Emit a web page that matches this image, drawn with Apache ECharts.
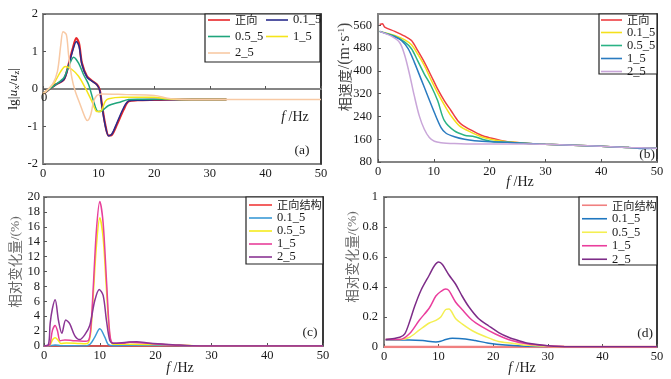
<!DOCTYPE html>
<html><head><meta charset="utf-8">
<script src="https://cdn.jsdelivr.net/npm/echarts/dist/echarts.min.js"></script>
<style>html,body{margin:0;padding:0;background:#fff;}.c{position:absolute;left:0;top:0;width:671px;height:379px;}</style>
</head><body>
<div id="ca" class="c"></div><div id="cb" class="c"></div><div id="cc" class="c"></div><div id="cd" class="c"></div>
<script>
// ---------- Panel (a): lg|ux/uz| ----------
const aNames = ['正向', '0.1_5', '0.5_5', '1_5', '2_5'];
const aFwdX = [0, 1, 2.3, 3.75, 4.6, 5.3, 6.0, 6.5, 7.0, 7.9, 8.8, 9.7, 10.2, 10.6, 11.2, 11.8, 12.4, 13.3, 14.5, 15.4, 17, 20, 25, 30, 33];
const aFwdY = [-0.13, -0.02, 0.12, 0.25, 0.65, 1.05, 1.36, 1.2, 0.69, 0.34, 0.22, 0.12, -0.02, -0.42, -0.95, -1.24, -1.22, -0.95, -0.55, -0.33, -0.3, -0.29, -0.28, -0.28, -0.28];
const a01Y = [-0.13, -0.02, 0.12, 0.25, 0.62, 1.0, 1.27, 1.13, 0.66, 0.32, 0.21, 0.11, -0.04, -0.45, -0.98, -1.25, -1.2, -0.9, -0.5, -0.32, -0.3, -0.29, -0.28, -0.28, -0.28];
const a05X = [0, 1, 2.3, 3.75, 4.6, 5.5, 6.4, 7.3, 8.2, 9.1, 9.9, 10.6, 11.8, 13.6, 15.4, 17, 20, 25, 30, 33];
const a05Y = [-0.13, -0.02, 0.12, 0.3, 0.6, 0.85, 0.69, 0.38, 0.12, -0.33, -0.6, -0.58, -0.44, -0.36, -0.28, -0.27, -0.27, -0.28, -0.28, -0.28];
const a1X = [0, 1, 2, 3.2, 4.0, 5.2, 6.4, 7.6, 8.8, 9.7, 10.3, 11.2, 11.8, 14.2, 20, 22, 25, 30, 33];
const a1Y = [-0.13, 0.0, 0.16, 0.47, 0.6, 0.52, 0.34, 0.03, -0.33, -0.6, -0.6, -0.33, -0.26, -0.22, -0.22, -0.26, -0.28, -0.28, -0.28];
const a2X = [0, 1.7, 2.6, 3.2, 3.6, 4.2, 4.6, 5.2, 5.8, 6.7, 7.6, 8.0, 8.6, 9.1, 9.7, 10.6, 15, 20, 23, 30, 40, 50];
const a2Y = [-0.13, 0.12, 0.47, 1.18, 1.53, 1.45, 0.91, 0.29, -0.06, -0.42, -0.77, -0.84, -0.68, -0.33, -0.17, -0.13, -0.15, -0.17, -0.26, -0.28, -0.28, -0.28];

// ---------- Panel (b): phase velocity ----------
const bNames = ['正向', '0.1_5', '0.5_5', '1_5', '2_5'];
const bFwdX = [0.3, 0.8, 1.2, 3.0, 4.8, 6.0, 7.1, 8.3, 9.5, 10.7, 11.9, 13.1, 14.3, 15.2, 16.7, 18.5, 20.2, 22, 24.4, 27, 30, 35, 40, 45, 50];
const bFwdY = [563, 566, 554, 539, 522, 507, 472, 431, 384, 336, 295, 260, 225, 209, 192, 174, 164, 156, 149, 145, 142, 139, 135, 131, 128];
const b01X = [0.3, 3.0, 4.8, 6.0, 7.1, 8.3, 9.5, 10.7, 11.9, 13.1, 14.6, 16.7, 18.5, 20.2, 22, 24.4, 27, 30, 35, 40, 45, 50];
const b01Y = [539, 525, 509, 492, 460, 419, 369, 322, 280, 242, 207, 184, 169, 160, 154, 149, 145, 142, 139, 135, 131, 128];
const b05X = [0.3, 3.0, 4.8, 6.0, 7.1, 8.3, 9.5, 10.7, 11.9, 13.7, 15.5, 17.3, 19, 20.8, 23.2, 27, 30, 35, 40, 45, 50];
const b05Y = [539, 522, 501, 478, 436, 389, 348, 295, 225, 189, 174, 169, 158, 151, 149, 145, 142, 139, 135, 131, 128];
const b1X = [0.3, 3.0, 4.2, 5.4, 6.5, 7.7, 8.9, 10.1, 11.3, 12.2, 13.7, 15.5, 17.3, 20.2, 23.2, 27, 30, 35, 40, 45, 47.5, 50];
const b1Y = [539, 520, 507, 478, 431, 372, 313, 254, 201, 181, 169, 160, 155, 151, 149, 145, 142, 139, 135, 131, 127, 128];
const b2X = [0.3, 2.4, 3.9, 4.8, 5.7, 6.5, 7.4, 8.3, 9.2, 10.1, 11.3, 13.7, 17.3, 22, 27, 30, 35, 40, 45, 50];
const b2Y = [539, 522, 499, 454, 384, 313, 242, 195, 166, 153, 148, 145, 143, 143, 143, 142, 139, 135, 131, 128];

// ---------- Panel (c): relative change ----------
const cNames = ['正向结构', '0.1_5', '0.5_5', '1_5', '2_5'];
const cFwdX = [0, 50];
const cFwdY = [0, 0];
const c01X = [0, 1, 2, 3, 5, 7, 8.2, 9.1, 10.0, 10.9, 11.5, 12.5, 15, 20, 25, 28, 50];
const c01Y = [0, 0.05, 0.12, 0.05, 0.05, 0, 0.2, 1.2, 2.3, 1.2, 0.2, 0.05, 0.1, 0.1, 0.05, 0, 0];
const c05X = [0, 0.8, 1.2, 1.6, 2.0, 2.5, 3.0, 4, 6, 7.5, 8.0, 8.4, 8.8, 9.4, 10.0, 10.6, 11.2, 11.8, 12.4, 15, 20, 25, 28, 50];
const c05Y = [0, 0.05, 0.3, 0.9, 1.1, 0.8, 0.35, 0.4, 0.35, 0.3, 0.5, 2.0, 6.5, 13.5, 17.2, 14.5, 7.5, 1.3, 0.25, 0.25, 0.2, 0.1, 0, 0];
const c1X = [0, 0.8, 1.1, 1.5, 2.0, 2.4, 2.9, 3.75, 5.2, 7.0, 8.0, 8.4, 8.8, 9.4, 10.0, 10.6, 11.2, 11.8, 12.4, 14.2, 15.4, 17.1, 20, 23, 28, 50];
const c1Y = [0, 0.05, 0.27, 2.07, 2.75, 2.07, 0.72, 0.81, 0.72, 0.63, 0.8, 2.5, 7.5, 15.6, 19.4, 16.5, 8.8, 1.6, 0.36, 0.36, 0.5, 0.45, 0.27, 0.13, 0, 0];
const c2X = [0, 0.8, 1.1, 1.5, 2.0, 2.6, 3.2, 3.9, 4.6, 5.5, 6.4, 7.3, 8.2, 9.1, 9.9, 10.6, 11.2, 11.8, 12.4, 14.8, 16.6, 19, 23, 28, 50];
const c2Y = [0, 0.2, 3.0, 5.0, 6.2, 3.4, 1.7, 3.5, 3.0, 1.4, 0.86, 1.5, 2.75, 6.1, 7.6, 6.8, 3.4, 0.72, 0.36, 0.5, 0.58, 0.36, 0.18, 0, 0];

// ---------- Panel (d): relative change ----------
const dNames = ['正向结构', '0.1_5', '0.5_5', '1_5', '2_5'];
const dFwdX = [0, 50];
const dFwdY = [0, 0];
const d01X = [0.3, 4.7, 7.1, 9.5, 10.4, 11.3, 12.5, 14.9, 16.7, 19.2, 22.2, 25.2, 30];
const d01Y = [0.047, 0.047, 0.043, 0.034, 0.038, 0.05, 0.058, 0.054, 0.043, 0.025, 0.013, 0.007, 0.003];
const d05X = [0.3, 2.9, 4.7, 6.5, 8.3, 9.5, 10.4, 11.3, 11.9, 13.1, 14.3, 16.1, 18.5, 21, 23.4, 26.4, 30, 33];
const d05Y = [0.05, 0.05, 0.065, 0.114, 0.16, 0.177, 0.2, 0.25, 0.253, 0.19, 0.154, 0.11, 0.07, 0.036, 0.025, 0.011, 0.005, 0.003];
const d1X = [0.3, 2.9, 4.7, 6.5, 8.3, 9.5, 10.4, 11.3, 11.9, 13.1, 14.3, 16.1, 17.9, 20.4, 23.4, 26.4, 30, 33];
const d1Y = [0.05, 0.05, 0.09, 0.18, 0.26, 0.34, 0.37, 0.387, 0.376, 0.30, 0.25, 0.18, 0.136, 0.087, 0.043, 0.02, 0.008, 0.003];
const d2X = [0.3, 2.9, 3.8, 4.7, 5.6, 6.8, 8.3, 9.2, 10, 10.7, 11.9, 13.1, 14.3, 15.5, 17.3, 19.2, 21, 22.8, 24.6, 26.4, 30, 34, 50];
const d2Y = [0.05, 0.065, 0.087, 0.17, 0.27, 0.38, 0.48, 0.54, 0.566, 0.55, 0.48, 0.42, 0.34, 0.27, 0.19, 0.14, 0.096, 0.065, 0.043, 0.025, 0.009, 0.002, 0.002];

const xTicks = {min: 0, max: 50, interval: 10};

const SERIF = "'Liberation Serif','Times New Roman',serif";
const CJK = "'Noto Sans CJK SC','Liberation Serif',sans-serif";

function pairs(xs, ys) { return xs.map((x, i) => [x, ys[i]]); }
function line(name, xs, ys, color, width) {
  return {name, type: 'line', data: pairs(xs, ys), symbol: 'none', smooth: 0.3,
    lineStyle: {color, width: width || 1.5}, itemStyle: {color}, z: 2, animation: false};
}
function axes(grid, ymin, ymax, yint, opt) {
  return {
    animation: false,
    grid: Object.assign({show: true, borderWidth: 2, borderColor: '#858585', backgroundColor: 'transparent'}, grid),
    xAxis: [{type: 'value', min: xTicks.min, max: xTicks.max, interval: xTicks.interval, position: 'bottom',
      axisLine: {show: true, onZero: !!opt.onZero, lineStyle: {color: '#858585', width: 2}},
      axisTick: {show: true, inside: true, length: 3, lineStyle: {color: '#555'}},
      axisLabel: {color: '#1a1a1a', fontFamily: SERIF, fontSize: 12.5, margin: opt.xMargin || 3, showMinLabel: true, showMaxLabel: true, hideOverlap: false},
      splitLine: {show: false}}],
    yAxis: [{type: 'value', min: ymin, max: ymax, interval: yint,
      axisLine: {show: true, onZero: false, lineStyle: {color: '#808080', width: 1.5}},
      axisTick: {show: true, inside: true, length: 3, lineStyle: {color: '#555'}},
      axisLabel: {color: '#1a1a1a', fontFamily: SERIF, fontSize: 12.5, margin: opt.yMargin || 5, showMinLabel: true, showMaxLabel: opt.showMax !== false},
      splitLine: {show: false}},
      {type: 'value', position: 'right', min: ymin, max: ymax, interval: yint,
      axisLine: {show: true, onZero: false, lineStyle: {color: '#222', width: 1.5}},
      axisTick: {show: false}, axisLabel: {show: false}, splitLine: {show: false}}]
  };
}
function legendBox(x, y, w, h) {
  return {type: 'rect', shape: {x, y, width: w, height: h}, style: {fill: '#fff', stroke: '#222', lineWidth: 1.2}, z: 3};
}
function legend(left, top, data, iw, lh, gap) {
  return {orient: 'vertical', left, top, padding: 0, itemGap: gap, itemWidth: iw, itemHeight: 1.6,
    icon: 'rect', selectedMode: false, data, z: 5,
    formatter: n => /[\u4e00-\u9fff]/.test(n) ? '{c|' + n + '}' : n,
    textStyle: {fontFamily: SERIF, fontSize: 12.5, color: '#1a1a1a', lineHeight: lh,
      rich: {c: {fontFamily: CJK, fontSize: 11.2, color: '#1a1a1a', lineHeight: lh}}}};
}
function txt(x, y, text, rich, rot, color, size) {
  return {type: 'text', x, y, rotation: rot || 0, z: 6,
    style: {text, rich: rich || {}, fill: color || '#222', fontFamily: SERIF, fontSize: size || 13.5,
      align: 'center', verticalAlign: 'middle'}};
}
const fRich = {i: {fontStyle: 'italic', fontFamily: SERIF, fontSize: 14, fill: '#222'}, r: {fontFamily: SERIF, fontSize: 14, fill: '#222'}};
const fText = '{i|f}{r| /Hz}';

// ---- chart (a)
const A = echarts.init(document.getElementById('ca'));
const oa = axes({left: 43, top: 14, width: 278, height: 150}, -2, 2, 1, {onZero: true, yMargin: 5});
oa.series = [
  line(aNames[0], aFwdX, aFwdY, '#e8262a', 2.2),
  line(aNames[1], aFwdX, a01Y, '#2a2c8c', 1.5),
  line(aNames[2], a05X, a05Y, '#1fa57c', 1.5),
  line(aNames[3], a1X, a1Y, '#f5e51a', 1.5),
  line(aNames[4], a2X, a2Y, '#f8c9a4', 1.5)
];
oa.legend = [legend(208, 13.5, [aNames[0], aNames[2], aNames[4]], 22, 13, 3.5),
             legend(266, 13.5, [aNames[1], aNames[3]], 22, 13, 3.5)];
oa.graphic = [legendBox(205, 14, 115, 48),
  txt(13, 89, '{r|lg|}{i|u}{s|x}{r|/}{i|u}{s|z}{r||}', {
    r: {fontFamily: SERIF, fontSize: 13.5, lineHeight: 16, fill: '#222'},
    i: {fontFamily: SERIF, fontStyle: 'italic', fontSize: 13.5, lineHeight: 16, fill: '#222'},
    s: {fontFamily: SERIF, fontSize: 9, lineHeight: 9, verticalAlign: 'bottom', fill: '#222'}}, Math.PI / 2),
  txt(44, 97.5, String(xTicks.min), null, 0, '#1a1a1a', 12.5),
  txt(295, 117, fText, fRich),
  txt(302, 150, '(a)', null, 0, '#222', 13.5)];
A.setOption(oa);

// ---- chart (b)
const B = echarts.init(document.getElementById('cb'));
const ob = axes({left: 378, top: 14, width: 279, height: 148}, 80, 600, 80, {yMargin: 6, showMax: false});
ob.series = [
  line(bNames[0], bFwdX, bFwdY, '#ee3e42', 1.5),
  line(bNames[1], b01X, b01Y, '#f4e01c', 1.5),
  line(bNames[2], b05X, b05Y, '#2ab385', 1.5),
  line(bNames[3], b1X, b1Y, '#2a7bc0', 1.5),
  line(bNames[4], b2X, b2Y, '#c9a6d9', 1.5)
];
ob.legend = [legend(601, 14, bNames, 21, 12, 0)];
ob.graphic = [legendBox(599, 14, 58, 60),
  txt(345, 67, '{c|相速度}{r|/(m·s}{p|-1}{r|)}', {
    c: {fontFamily: CJK, fontSize: 14, lineHeight: 16, fill: '#444'},
    r: {fontFamily: SERIF, fontSize: 16, lineHeight: 16, fill: '#444'},
    p: {fontFamily: SERIF, fontSize: 9, lineHeight: 9, verticalAlign: 'top', fill: '#444'}}, Math.PI / 2),
  txt(520, 182, fText, fRich),
  txt(647, 154, '(b)', null, 0, '#222', 13.5)];
B.setOption(ob);

// ---- chart (c)
const C = echarts.init(document.getElementById('cc'));
const oc = axes({left: 44, top: 197, width: 279, height: 149}, 0, 20, 2, {yMargin: 4});
oc.series = [
  line(cNames[0], cFwdX, cFwdY, '#f03a3a', 1.5),
  line(cNames[1], c01X, c01Y, '#3b9ad6', 1.5),
  line(cNames[2], c05X, c05Y, '#f6ec1e', 1.5),
  line(cNames[3], c1X, c1Y, '#e8409a', 1.5),
  line(cNames[4], c2X, c2Y, '#8b3594', 1.5)
];
oc.legend = [legend(249, 198.5, cNames, 23, 13, 0)];
oc.graphic = [legendBox(246, 197, 77, 67),
  txt(15, 262, '{c|相对变化量}{r|/(%)}', {
    c: {fontFamily: CJK, fontSize: 13.5, fill: '#666'},
    r: {fontFamily: SERIF, fontSize: 13.5, fill: '#666'}}, Math.PI / 2),
  txt(180, 368, fText, fRich),
  txt(310, 332, '(c)', null, 0, '#222', 13.5)];
C.setOption(oc);

// ---- chart (d)
const D = echarts.init(document.getElementById('cd'));
const od = axes({left: 384, top: 197, width: 273, height: 150}, 0, 1, 0.2, {yMargin: 6});
od.series = [
  line(dNames[0], dFwdX, dFwdY, '#f08080', 2.6),
  line(dNames[1], d01X, d01Y, '#1f77c0', 1.5),
  line(dNames[2], d05X, d05Y, '#f4ef52', 1.5),
  line(dNames[3], d1X, d1Y, '#ea3e9d', 1.5),
  line(dNames[4], d2X, d2Y, '#7d2c88', 1.5)
];
od.legend = [legend(582, 198.5, dNames, 25, 13.5, 0)];
od.graphic = [legendBox(579, 197, 78, 68),
  txt(352, 257, '{c|相对变化量}{r|/(%)}', {
    c: {fontFamily: CJK, fontSize: 13.5, fill: '#666'},
    r: {fontFamily: SERIF, fontSize: 13.5, fill: '#666'}}, Math.PI / 2),
  txt(522, 368, fText, fRich),
  txt(645, 333, '(d)', null, 0, '#222', 13.5)];
D.setOption(od);
</script>
</body></html>
